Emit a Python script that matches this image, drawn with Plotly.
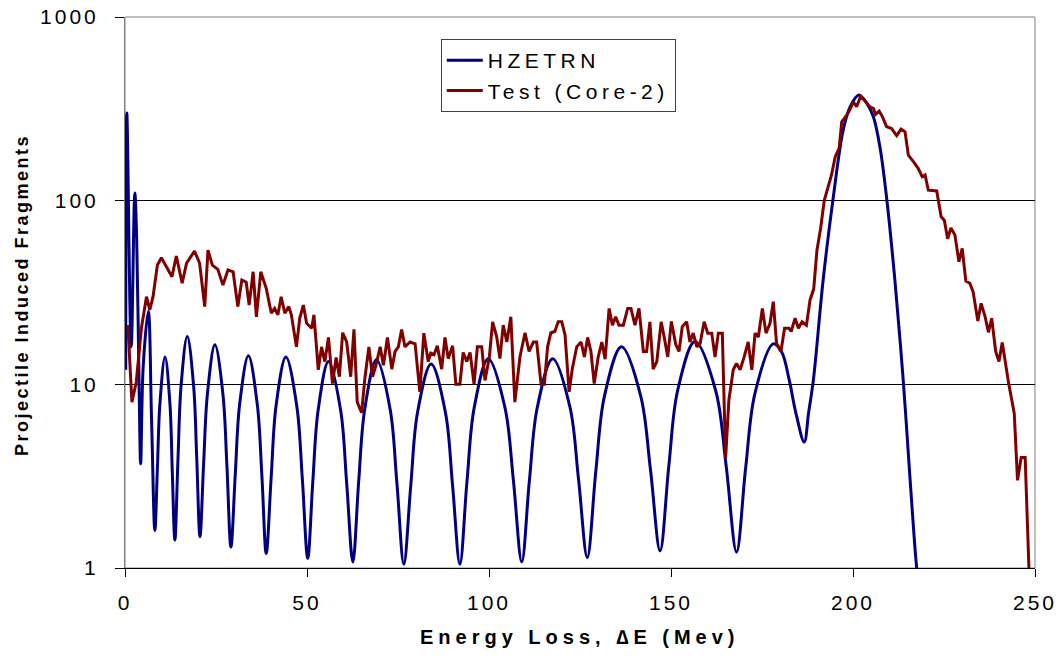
import plotly.graph_objects as go

# HZETRN (smooth model curve)
hz_x = [0.2, 0.5, 1.7, 2.7, 3.2, 3.9, 4.3, 5.0, 6.4, 7.3, 8.2, 8.9, 9.6, 11.0, 12.35, 13.0, 13.7,
        14.55, 15.4, 17.1, 18.85, 19.7, 20.6, 21.6, 22.65, 24.7, 26.9, 28.0, 29.1, 30.3, 31.5, 33.9,
        36.35, 37.6, 38.8, 40.15, 41.5, 44.2, 47.2, 48.7, 50.2, 51.6, 53.05, 55.9, 59.25, 60.9, 62.6,
        64.2, 65.85, 69.1, 72.85, 74.7, 76.6, 78.5, 80.35, 84.1, 88.05, 90.0, 92.0, 93.95, 95.9, 99.8,
        104.4, 106.7, 109.0, 111.1, 113.25, 117.5, 122.25, 124.6, 127.0, 129.35, 131.7, 136.4, 141.7,
        144.35, 147.0, 149.4, 151.8, 156.6, 162.3, 165.15, 168.0, 170.5, 173.05, 178.1, 180.4, 182.5,
        184.3, 186.6, 187.8, 189.1, 191.8, 194.6, 197.3, 199.2, 201.6, 203.8, 205.6, 207.4, 209.2,
        211.5, 213.8, 215.7, 217.5, 218.0]
hz_y = [12, 300, 16, 110, 63, 9, 3.7, 12.5, 25, 6.4, 1.6, 3.5, 7.9, 14.1, 7.8, 3.3, 1.42,
        3.9, 9.8, 18.2, 9.8, 4.0, 1.48, 3.7, 8.9, 16.4, 8.85, 3.6, 1.3, 3.25, 7.8, 14.3,
        7.75, 3.2, 1.2, 3.1, 7.65, 14.1, 7.6, 3.1, 1.13, 2.96, 7.2, 13.3, 7.2, 2.9, 1.08,
        2.96, 7.3, 13.6, 7.3, 2.9, 1.05, 2.8, 7.0, 12.9, 7.0, 2.8, 1.05, 2.96, 7.4, 13.8,
        7.45, 3.0, 1.08, 3.0, 7.45, 13.8, 7.5, 3.04, 1.14, 3.37, 8.6, 16.0, 8.6,
        3.45, 1.24, 3.6, 9.2, 17.1, 9.2, 3.6, 1.22, 3.5, 8.9, 16.6, 15.0, 10.5,
        7.0, 4.85, 7.0, 10.5, 37, 105, 242, 324, 376, 339, 286, 196, 105,
        37, 10.5, 3.0, 1.0, 0.85]

# Test (Core-2) measured curve
test_x = [0.8, 1.9, 3.1, 4.5, 5.9, 6.8, 7.7, 8.9, 10.0, 11.4, 12.9, 14.1, 15.7, 16.9, 19.1, 20.5,
          21.9, 22.8, 24.0, 25.5, 26.9, 28.3, 29.7, 31.0, 32.1, 33.3, 34.1, 35.2, 36.1, 37.3, 38.8,
          40.2, 41.1, 42.0, 42.9, 43.9, 45.0, 45.7, 47.1, 48.0, 49.0, 49.9, 51.3, 51.9, 53.1, 54.0,
          54.9, 55.9, 57.0, 58.0, 58.9, 59.8, 60.9, 62.0, 62.9, 63.8, 65.0, 65.9, 67.0, 68.0, 68.9,
          70.1, 71.0, 72.1, 73.3, 74.2, 75.1, 76.0, 76.9, 78.3, 79.7, 81.0, 82.1, 83.3, 84.0, 84.9,
          85.8, 87.0, 87.9, 88.8, 90.0, 90.9, 92.0, 92.9, 93.9, 94.8, 95.9, 96.8, 98.0, 98.9, 100.1,
          101.0, 102.1, 103.0, 103.9, 104.9, 106.0, 107.1, 108.5, 109.9, 111.0, 112.2, 113.1, 114.3,
          115.2, 116.1, 117.0, 118.1, 119.0, 120.0, 120.9, 122.0, 122.9, 124.1, 125.3, 126.2, 127.1,
          128.0, 128.9, 130.0, 131.0, 131.9, 133.0, 133.9, 134.8, 135.7, 136.9, 138.1, 139.0, 140.1,
          141.2, 142.4, 143.3, 144.2, 145.1, 146.1, 147.3, 148.2, 149.1, 150.1, 151.3, 152.2, 153.1,
          154.3, 155.2, 156.1, 157.1, 158.0, 159.1, 160.1, 161.2, 162.1, 163.0, 164.1, 165.0, 165.9,
          167.1, 168.0, 169.0, 170.1, 171.2, 172.2, 173.1, 174.0, 175.1, 176.1, 177.2, 178.1, 179.0,
          180.2, 181.2, 182.4, 183.0, 184.1, 185.0, 186.0, 187.2, 188.2, 189.2, 190.1, 191.1, 192.1,
          193.2, 194.1, 195.1, 196.2, 196.9, 198.3, 199.2, 200.1, 201.0, 202.1, 203.3, 204.7, 205.6,
          206.2, 207.2, 208.1, 209.2, 210.6, 212.0, 213.2, 214.3, 215.2, 216.6, 217.9, 219.0, 219.8,
          220.7, 222.1, 223.0, 224.2, 225.1, 226.0, 226.9, 228.0, 229.1, 230.0, 231.0, 232.1, 233.0,
          234.3, 235.2, 236.3, 237.2, 238.1, 239.2, 240.1, 241.0, 242.7, 244.3, 245.2, 246.2, 247.3,
          248.2, 248.5]
test_y = [21, 8.0, 10.3, 20.2, 30, 25.4, 30, 44.6, 48.9, 43.7, 38.5, 50, 35.5, 45.6, 53.2, 45.6,
          26.5, 53.8, 44.6, 42.3, 34.7, 42, 41, 26.5, 37, 36, 27, 41, 23.3, 41, 33.3,
          24.4, 25.9, 23.9, 30, 24.4, 26.5, 23.9, 16, 22.9, 27, 21.5, 20.2, 23.9, 12, 16,
          13.3, 18, 10.1, 14, 11, 19.1, 17, 11, 19.9, 8.0, 7.0, 10.8, 16, 11, 12.6,
          16, 12.7, 18, 12.1, 15.1, 16, 19.9, 16, 17, 16.6, 9.1, 19, 13.3, 14.8, 14.5,
          16.2, 12.1, 18, 13.8, 16.2, 10.0, 10.0, 14.9, 13.3, 14.9, 10, 16, 16, 10.5, 14.1,
          21.9, 18.2, 13.8, 21, 17, 23.3, 8.0, 14.1, 19.1, 15.1, 17, 17, 10,
          10, 16, 19.1, 19.4, 21.9, 21.9, 18.5, 9.1, 12.2, 16, 17, 14.1, 18,
          15.1, 10.1, 14.1, 17, 13.7, 25.9, 21, 23.3, 21, 21, 25.9, 25.9, 21,
          25.9, 15.1, 15.1, 21.9, 12.1, 13.3, 21.9, 17.8, 14.1, 22, 16.5, 15.1, 20.6,
          21.9, 17, 19, 16, 16.7, 21.9, 19, 19, 14.1, 19, 19, 3.96, 8.2,
          12, 13, 12, 14.1, 17, 12, 19, 18.1, 25.9, 19, 21.5, 28.2, 16.7,
          15.1, 20.2, 20.2, 19.4, 22.9, 20.2, 21.9, 21, 28.8, 33, 53.8, 70.6, 100,
          119, 138, 173, 193, 269, 292, 315, 345, 325, 370, 349, 324, 318,
          295, 307, 286, 253, 247, 226, 245, 237, 177, 163, 150, 135, 138,
          114, 113, 113, 82, 78, 62, 71, 65, 46.5, 55, 36.5, 35.5, 31.9,
          22.1, 27.6, 23.3, 19.2, 22.9, 15.1, 13.3, 16.9, 10.3, 6.95, 3.0, 4.0, 4.0,
          1.0, 0.8]

y_tickvals = [1, 10, 100, 1000]
y_ticktext = ["1", "10", "100", "1000"]
x_tickvals = [0, 50, 100, 150, 200, 250]
x_ticktext = ["0", "50", "100", "150", "200", "250"]
series_names = ["HZETRN", "Test (Core-2)"]
x_title = "Energy Loss, \u2206E (Mev)"
y_title = "Projectile Induced Fragments"

FONT = "Liberation Sans, Arial, sans-serif"


def spaced(s, px):
    return '<span style="letter-spacing:%spx">%s</span>' % (px, s)


fig = go.Figure()
fig.add_trace(go.Scatter(x=hz_x, y=hz_y, mode="lines", name=spaced(series_names[0], 4.5),
                         line=dict(color="#000080", width=3, shape="spline", smoothing=1.0)))
fig.add_trace(go.Scatter(x=test_x, y=test_y, mode="lines", name=spaced(series_names[1], 4.5),
                         line=dict(color="#800000", width=3)))

fig.update_layout(
    width=1063, height=659,
    margin=dict(l=125, r=28, t=17, b=91, autoexpand=False),
    paper_bgcolor="white", plot_bgcolor="white",
    font=dict(family=FONT, color="black"),
    showlegend=True,
    legend=dict(x=0.347, y=0.960, xanchor="left", yanchor="top",
                bgcolor="white", bordercolor="#404040", borderwidth=1, itemwidth=36,
                font=dict(size=21, family=FONT), tracegroupgap=11),
    xaxis=dict(range=[0, 250], tickvals=x_tickvals, ticktext=[spaced(t, 3) for t in x_ticktext],
               showgrid=False, zeroline=False, automargin=False,
               showline=True, linecolor="black", linewidth=1,
               ticks="outside", ticklen=8, tickcolor="black", ticklabelstandoff=8,
               tickfont=dict(size=21, family=FONT)),
    yaxis=dict(type="log", range=[0, 3], tickvals=y_tickvals,
               ticktext=[spaced(t, 3) for t in y_ticktext],
               showgrid=True, gridcolor="black", gridwidth=1, zeroline=False, automargin=False,
               showline=True, linecolor="#808080", linewidth=1,
               ticks="outside", ticklen=9, tickcolor="black", ticklabelstandoff=12,
               tickfont=dict(size=21, family=FONT)),
    shapes=[dict(type="rect", xref="paper", yref="paper", x0=0, y0=0, x1=1, y1=1,
                 line=dict(color="#808080", width=1), layer="below")],
    annotations=[
        dict(text="<b>" + spaced(x_title, 5) + "</b>", xref="paper", yref="paper",
             x=0.5, y=-0.125, xanchor="center", yanchor="middle", showarrow=False,
             font=dict(size=20, family=FONT)),
        dict(text="<b>" + spaced(y_title, 2.5) + "</b>", xref="paper", yref="paper",
             x=-0.1132, y=0.4955, xanchor="center", yanchor="middle", showarrow=False,
             textangle=-90, font=dict(size=18, family=FONT)),
    ],
)

fig.write_html("out.html")
